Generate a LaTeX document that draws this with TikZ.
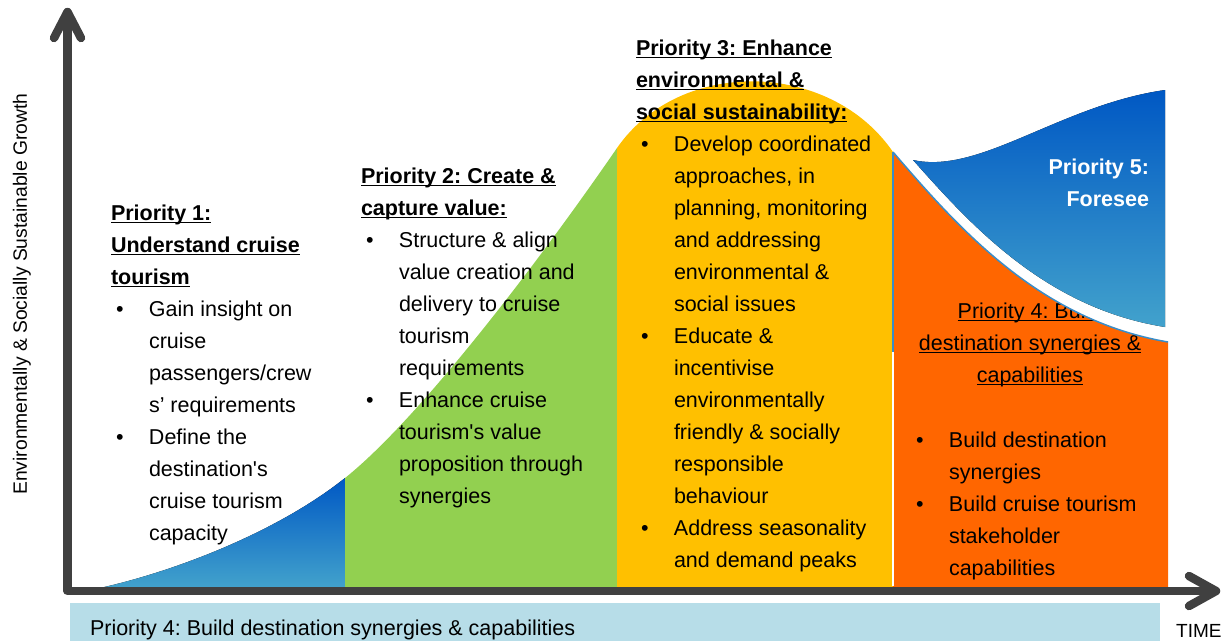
\documentclass[tikz,border=0pt]{standalone}
\usepackage{fontspec}
\setmainfont{Liberation Sans}[Ligatures=TeXOff]
\definecolor{axisgray}{HTML}{404040}
\definecolor{pgreen}{HTML}{92D050}
\definecolor{pgold}{HTML}{FFC000}
\definecolor{porange}{HTML}{FF6600}
\definecolor{pbar}{HTML}{B7DDE8}
\definecolor{bluedark}{HTML}{0058C4}
\definecolor{bluelight}{HTML}{42A2CC}
\definecolor{edgeblue}{HTML}{3A8DC8}
\frenchspacing
\newcommand\ulx[2][1.5pt]{\setbox0\hbox{#2}\rlap{\rule[-3.4pt]{\wd0}{#1}}\box0}
\newcommand\bu{\hspace*{5pt}\makebox[33pt][l]{\textbullet}}
\newcommand\ind{\hspace*{38pt}}
\newcommand\blk[1]{\begin{tabular}[t]{@{}l@{}}#1\end{tabular}}
\newcommand\blkc[1]{\begin{tabular}[t]{@{}c@{}}#1\end{tabular}}
\newcommand\blkr[1]{\begin{tabular}[t]{@{}r@{}}#1\end{tabular}}
\tikzset{
  txt/.style={font=\fontsize{21.5}{32}\selectfont, inner sep=0pt, outer sep=0pt, text=black},
  axisline/.style={axisgray, line width=8.5pt, line cap=round, line join=round},
  bluegrad/.style={top color=bluedark, bottom color=bluelight}
}
\begin{document}
\begin{tikzpicture}[x=1pt,y=-1pt]
\useasboundingbox (0,0) rectangle (1222,641);
% bottom bar
\fill[pbar] (70,603) rectangle (1160,641);
\node[txt, anchor=base west] (bar) at (90,635) {Priority 4: Build destination synergies \& capabilities};
% region 1
\fill[bluegrad] (100,588) .. controls (180,570) and (280,530) .. (345,478) -- (345,588) -- cycle;
% region 2
\fill[pgreen] (345,478) .. controls (420,418) and (540,260) .. (617,148) -- (617,588) -- (345,588) -- cycle;
% region 3
\fill[pgold] (617,148) .. controls (680,57) and (830,60) .. (893,152) -- (893,588) -- (617,588) -- cycle;
% region 4
\fill[porange] (893,152) .. controls (960,230) and (1040,320) .. (1168,342) -- (1168,588) -- (893,588) -- cycle;
\draw[edgeblue, line width=1.5pt] (893,352) -- (893,152);
\draw[white, line width=2pt] (893,352) -- (893,586);
% priority 4 heading (partly covered by priority 5)
\node[txt, anchor=base] (p4head) at (1030,318) {\blkc{\ulx[1.2pt]{Priority 4: Build}\\ \ulx[1.2pt]{destination synergies \&}\\ \ulx[1.2pt]{capabilities}}};
% white band and priority 5 shape
\fill[white] (893,152) .. controls (960,230) and (1040,320) .. (1168,342) -- (1168,326) -- (1165,327) .. controls (1045,308) and (970,224) .. (913,160) -- cycle;
\draw[edgeblue, line width=1.5pt] (893,152) .. controls (960,230) and (1040,320) .. (1168,342);
\fill[bluegrad] (913,160) .. controls (980,175) and (1060,105) .. (1165,90) -- (1165,327) .. controls (1045,308) and (970,224) .. (913,160) -- cycle;
% axes
\draw[axisline] (67.5,14) -- (67.5,591) -- (1214,591);
\draw[axisline] (54,38) -- (67.5,12) -- (81,38);
\draw[axisline] (1189,576) -- (1216,591) -- (1189,606);
\node[font=\fontsize{19.3}{20}\selectfont, rotate=90, inner sep=0pt] (ylab) at (22,294) {Environmentally \& Socially Sustainable Growth};
\node[font=\fontsize{19}{20}\selectfont, anchor=base west, inner sep=0pt] (time) at (1176,637) {TIME};
% texts
\node[txt, anchor=base west] (p1) at (111,220) {\blk{%
\textbf{\ulx{Priority 1:}}\\
\textbf{\ulx{Understand cruise}}\\
\textbf{\ulx{tourism}}\\
\bu Gain insight on\\
\ind cruise\\
\ind passengers/crew\\
\ind s’ requirements\\
\bu Define the\\
\ind destination's\\
\ind cruise tourism\\
\ind capacity}};
\node[txt, anchor=base west] (p2) at (361,183) {\blk{%
\textbf{\ulx{Priority 2: Create \&}}\\
\textbf{\ulx{capture value:}}\\
\bu Structure \& align\\
\ind value creation and\\
\ind delivery to cruise\\
\ind tourism\\
\ind requirements\\
\bu Enhance cruise\\
\ind tourism's value\\
\ind proposition through\\
\ind synergies}};
\node[txt, anchor=base west] (p3) at (636,55) {\blk{%
\textbf{\ulx{Priority 3: Enhance}}\\
\textbf{\ulx{environmental \&}}\\
\textbf{\ulx{social sustainability:}}\\
\bu Develop coordinated\\
\ind approaches, in\\
\ind planning, monitoring\\
\ind and addressing\\
\ind environmental \&\\
\ind social issues\\
\bu Educate \&\\
\ind incentivise\\
\ind environmentally\\
\ind friendly \& socially\\
\ind responsible\\
\ind behaviour\\
\bu Address seasonality\\
\ind and demand peaks}};
\node[txt, anchor=base west] (p4) at (911,447) {\blk{%
\bu Build destination\\
\ind synergies\\
\bu Build cruise tourism\\
\ind stakeholder\\
\ind capabilities}};
\node[txt, anchor=base east, text=white] (p5) at (1149,174) {\blkr{%
\textbf{Priority 5:}\\
\textbf{Foresee}}};
\end{tikzpicture}
\end{document}
